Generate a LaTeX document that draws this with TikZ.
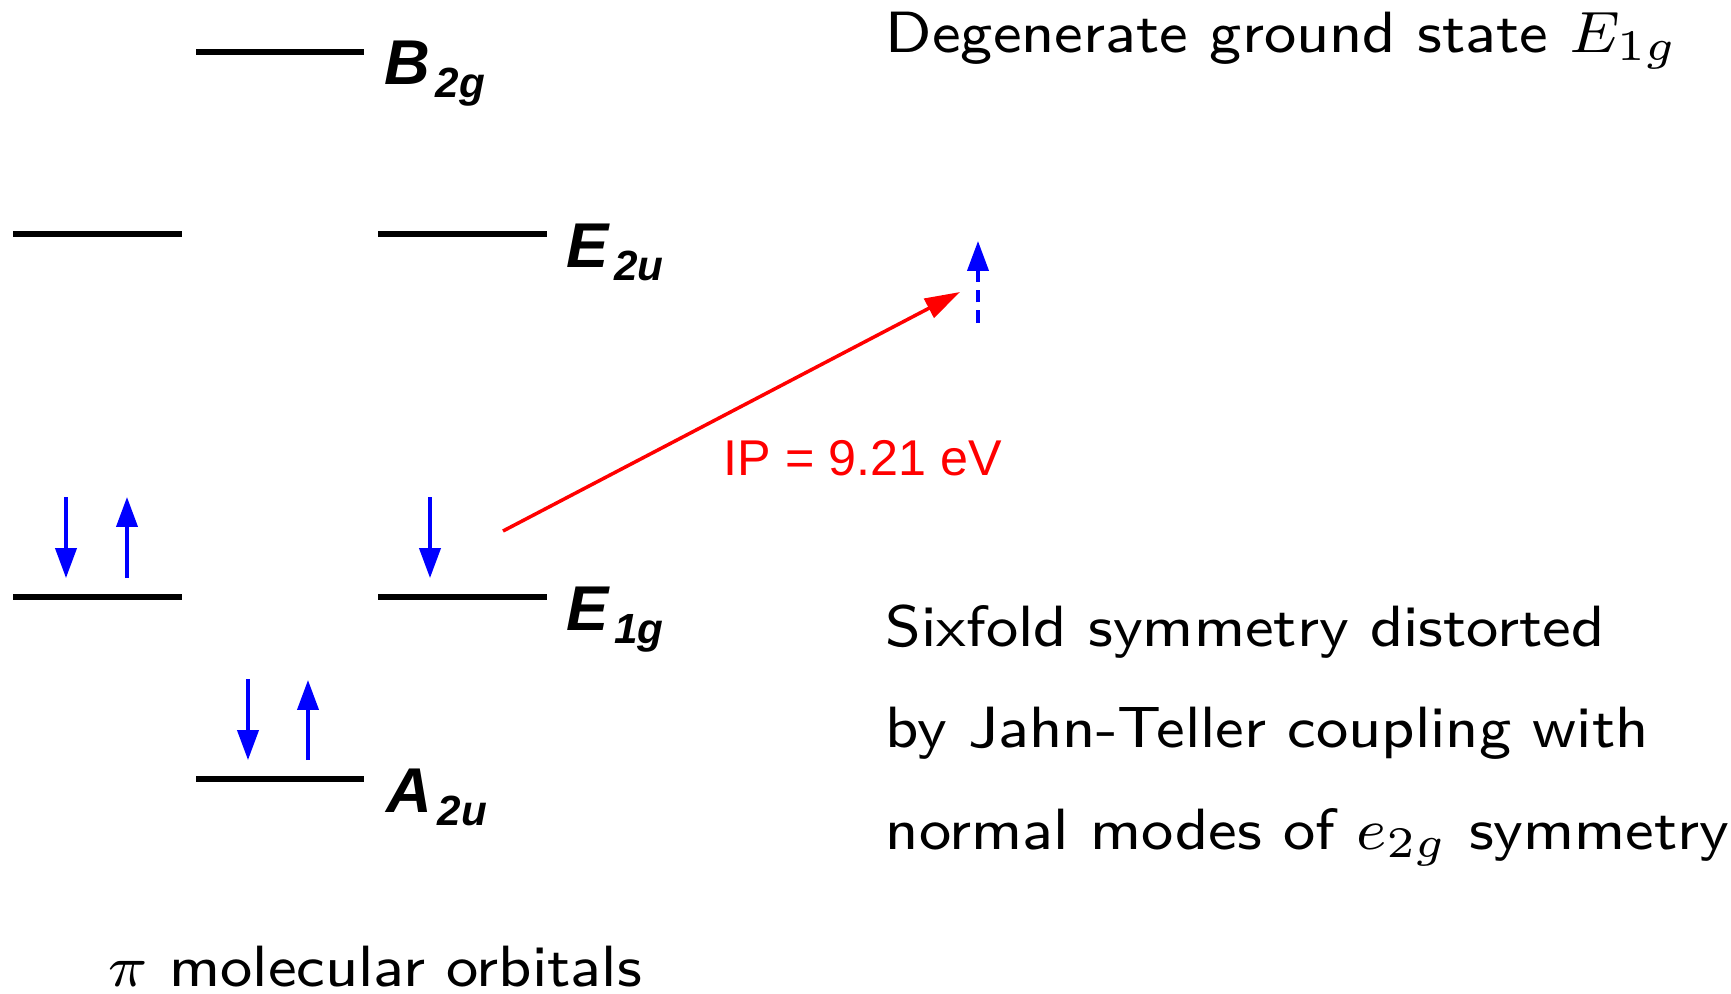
\documentclass[tikz,border=0pt]{standalone}
\usepackage{graphicx}
\usepackage{fontspec}
\usetikzlibrary{arrows.meta}
\newfontfamily\arialfont{Liberation Sans}
\newcommand\orb[2]{{\fontsize{18}{18}\selectfont #1}\kern1.5pt\raisebox{-3.7pt}{\fontsize{12}{12}\selectfont #2}}
\newcommand\slide[1]{\scalebox{2.155}[2.07]{\fontsize{8}{10}\selectfont\sffamily #1}}
\tikzset{
  lvl/.style={line width=1.5pt},
  spin/.style={blue,line width=1pt,-{Triangle[length=8.5pt,width=6pt]}},
  sym/.style={anchor=base west,inner sep=0pt,font=\arialfont\bfseries\itshape},
  txt/.style={anchor=base west,inner sep=0pt}
}
\begin{document}
\begin{tikzpicture}[x=0.01cm,y=-0.01cm]
  \useasboundingbox (0,0) rectangle (1731,993);
  \draw[lvl] (196,52)--(364,52) (13,234)--(182,234) (378,234)--(547,234);
  \draw[lvl] (13,597)--(182,597) (378,597)--(547,597) (196,779)--(364,779);
  \path (384,84) node[sym] (b2g) {\orb{B}{2g}}
    (566,267) node[sym] (e2u) {\orb{E}{2u}}
    (566,630) node[sym] (e1g) {\orb{E}{1g}}
    (386,812) node[sym] (a2u) {\orb{A}{2u}};
  \draw[spin] (66,497)--(66,578);
  \draw[spin] (127,578)--(127,497);
  \draw[spin] (430,497)--(430,578);
  \draw[spin] (248,679)--(248,760);
  \draw[spin] (308,760)--(308,680);
  \coordinate (hole) at (503,531);
  \coordinate (ion) at (960,292);
  \draw[spin,dash pattern=on 3.6pt off 2.3pt] (978,323)--(978,241);
  \draw[red,line width=1pt,-{Triangle[length=10pt,width=6pt]}] (hole)--(ion);
  \path (723,475) node[txt,red,font=\arialfont\fontsize{14.3}{16}\selectfont] (ip) {IP = 9.21 eV};
  \path (885,52) node[txt] (ground) {\slide{Degenerate ground state $E_{1g}$}}
    (885,646) node[txt] (jt1) {\slide{Sixfold symmetry distorted}}
    (885,747) node[txt] (jt2) {\slide{by Jahn-Teller coupling with}}
    (885,849) node[txt] (jt3) {\slide{normal modes of $e_{2g}$ symmetry}}
    (108,986) node[txt] (pimo) {\slide{$\pi$ molecular orbitals}};
\end{tikzpicture}
\end{document}
